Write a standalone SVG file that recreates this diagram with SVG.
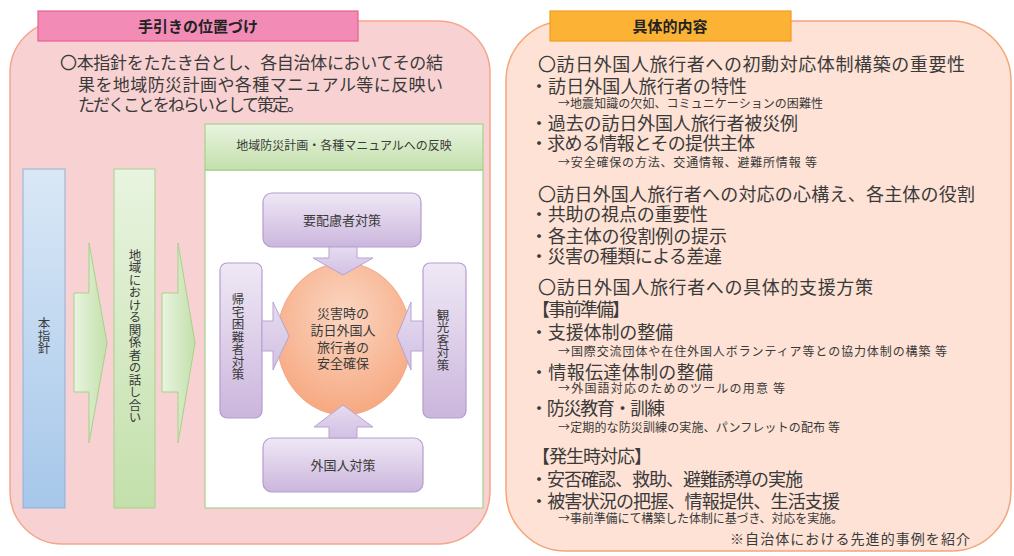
<svg xmlns="http://www.w3.org/2000/svg" width="1014" height="556" viewBox="0 0 1014 556">
<defs>
<linearGradient id="gBlue" x1="0" y1="0" x2="0" y2="1"><stop offset="0" stop-color="#dae8f6"/><stop offset="1" stop-color="#a6c7ea"/></linearGradient>
<linearGradient id="gGreen" x1="0" y1="0" x2="0" y2="1"><stop offset="0" stop-color="#e9f4e0"/><stop offset="1" stop-color="#c3e0ab"/></linearGradient>
<linearGradient id="gGreenH" x1="0" y1="0" x2="1" y2="0"><stop offset="0" stop-color="#e9f4e0"/><stop offset="1" stop-color="#c3e0ab"/></linearGradient>
<linearGradient id="gPurple" x1="0" y1="0" x2="0" y2="1"><stop offset="0" stop-color="#efe8f5"/><stop offset="1" stop-color="#cbb6dd"/></linearGradient>
<linearGradient id="gPurpleA" x1="0" y1="0" x2="0" y2="1"><stop offset="0" stop-color="#e6dcf0"/><stop offset="1" stop-color="#d2c0e3"/></linearGradient>
<radialGradient id="gCircle" cx="0.5" cy="0.35" r="0.7"><stop offset="0" stop-color="#fbd6c2"/><stop offset="1" stop-color="#f6a57c"/></radialGradient>
</defs>
<style>
text{font-family:"Noto Sans CJK JP","Noto Sans CJK SC",sans-serif;fill:#3a3a3a;}
.ttl{font-size:15px;font-weight:bold;fill:#222;text-anchor:middle;}
.para{font-size:17px;}
.main{font-size:18px;}
.sub{font-size:12px;}
.lbl{font-size:13px;text-anchor:middle;}
.vt{font-size:12.5px;writing-mode:vertical-rl;text-anchor:middle;}
.pbox{fill:url(#gPurple);stroke:#b49dcd;stroke-width:1.2;}
.parr{fill:url(#gPurpleA);stroke:#b8a3d1;stroke-width:1;}
.garr{fill:url(#gGreenH);stroke:#a6d18b;stroke-width:1;}
</style>
<rect width="1014" height="556" fill="#ffffff"/>

<g id="left-panel">
<rect x="10" y="21" width="480" height="523" rx="52" fill="#f8d2d2" stroke="#f4a68c" stroke-width="1.5"/>
<rect x="38" y="11" width="320" height="30" fill="#f28cb7" stroke="#e9608f" stroke-width="1.2"/>
<text class="ttl" x="198" y="32">手引きの位置づけ</text>
<text class="para" x="60" y="69" textLength="383">〇本指針をたたき台とし、各自治体においてその結</text>
<text class="para" x="78" y="91" textLength="365">果を地域防災計画や各種マニュアル等に反映い</text>
<text class="para" x="78" y="111" textLength="226">ただくことをねらいとして策定。</text>
</g>

<g id="node-honshishin">
<rect x="23" y="169" width="42" height="339" fill="url(#gBlue)" stroke="#8fb1d9" stroke-width="1"/>
<text class="vt" x="44" y="336">本指針</text>
</g>

<g id="node-hanashiai">
<rect x="114" y="169" width="41" height="339" fill="url(#gGreen)" stroke="#a6d18b" stroke-width="1"/>
<text class="vt" x="135" y="336">地域における関係者の話し合い</text>
</g>

<g id="node-hanei">
<rect x="205" y="170" width="278" height="338" fill="#ffffff" stroke="#a6d18b" stroke-width="1.2"/>
<rect x="205" y="124" width="278" height="46" fill="url(#gGreen)" stroke="#a6d18b" stroke-width="1.2"/>
<text x="344" y="150" style="font-size:12px;text-anchor:middle;">地域防災計画・各種マニュアルへの反映</text>
</g>

<g id="node-center">
<ellipse cx="344" cy="339" rx="67" ry="76" fill="url(#gCircle)" stroke="#f5a583" stroke-width="1"/>
<text class="lbl" x="343" y="318">災害時の</text>
<text class="lbl" x="343" y="335">訪日外国人</text>
<text class="lbl" x="343" y="352">旅行者の</text>
<text class="lbl" x="343" y="368">安全確保</text>
</g>

<g id="node-top">
<rect x="263" y="193" width="158" height="54" rx="9" class="pbox"/>
<text class="lbl" x="342" y="225">要配慮者対策</text>
</g>
<g id="node-bottom">
<rect x="263" y="438" width="160" height="54" rx="9" class="pbox"/>
<text class="lbl" x="343" y="470">外国人対策</text>
</g>
<g id="node-left">
<rect x="220" y="263" width="42" height="155" rx="7" class="pbox"/>
<text class="vt" x="238" y="337">帰宅困難者対策</text>
</g>
<g id="node-right">
<rect x="423" y="263" width="43" height="155" rx="7" class="pbox"/>
<text class="vt" x="443" y="340">観光客対策</text>
</g>

<g id="connectors">
<polygon class="garr" points="74,293 89,293 89,243 107,343 89,443 89,392 74,392"/>
<polygon class="garr" points="162,293 178,293 178,243 195,343 178,443 178,392 162,392"/>
<polygon class="parr" points="329,247 357,247 357,258 373,258 343,275 313,258 329,258"/>
<polygon class="parr" points="329,438 357,438 357,427 373,427 343,405 314,427 329,427"/>
<polygon class="parr" points="262,321 273,321 273,302 289,336 273,370 273,351 262,351"/>
<polygon class="parr" points="423,321 411,321 411,302 397,336 411,370 411,351 423,351"/>
</g>

<g id="right-panel">
<rect x="506" y="21" width="505" height="530" rx="60" fill="#fde2d5" stroke="#f5a57a" stroke-width="1.5"/>
<rect x="550" y="11" width="241" height="30" fill="#fbb235" stroke="#f39c20" stroke-width="1.2"/>
<text class="ttl" x="670" y="32">具体的内容</text>
<text class="main" x="538" y="71" textLength="427">〇訪日外国人旅行者への初動対応体制構築の重要性</text>
<text class="main" x="530" y="93" textLength="217">・訪日外国人旅行者の特性</text>
<text class="sub" x="558" y="108" textLength="265">→地震知識の欠如、コミュニケーションの困難性</text>
<text class="main" x="530" y="130" textLength="268">・過去の訪日外国人旅行者被災例</text>
<text class="main" x="530" y="150" textLength="225">・求める情報とその提供主体</text>
<text class="sub" x="558" y="167" textLength="259">→安全確保の方法、交通情報、避難所情報 等</text>
<text class="main" x="538" y="201" textLength="437">〇訪日外国人旅行者への対応の心構え、各主体の役割</text>
<text class="main" x="530" y="221" textLength="178">・共助の視点の重要性</text>
<text class="main" x="530" y="243" textLength="197">・各主体の役割例の提示</text>
<text class="main" x="530" y="263" textLength="192">・災害の種類による差違</text>
<text class="main" x="538" y="294" textLength="335">〇訪日外国人旅行者への具体的支援方策</text>
<text class="main" x="532" y="316" textLength="98">【事前準備】</text>
<text class="main" x="530" y="339" textLength="143">・支援体制の整備</text>
<text class="sub" x="558" y="356" textLength="389">→国際交流団体や在住外国人ボランティア等との協力体制の構築 等</text>
<text class="main" x="530" y="379" textLength="183">・情報伝達体制の整備</text>
<text class="sub" x="558" y="393" textLength="227">→外国語対応のためのツールの用意 等</text>
<text class="main" x="530" y="415" textLength="135">・防災教育・訓練</text>
<text class="sub" x="558" y="432" textLength="282">→定期的な防災訓練の実施、パンフレットの配布 等</text>
<text class="main" x="532" y="463" textLength="120">【発生時対応】</text>
<text class="main" x="530" y="486" textLength="273">・安否確認、救助、避難誘導の実施</text>
<text class="main" x="530" y="508" textLength="310">・被害状況の把握、情報提供、生活支援</text>
<text class="sub" x="558" y="523" textLength="285">→事前準備にて構築した体制に基づき、対応を実施。</text>
<text x="730" y="544" textLength="240" style="font-size:14px;">※自治体における先進的事例を紹介</text>
</g>
</svg>
